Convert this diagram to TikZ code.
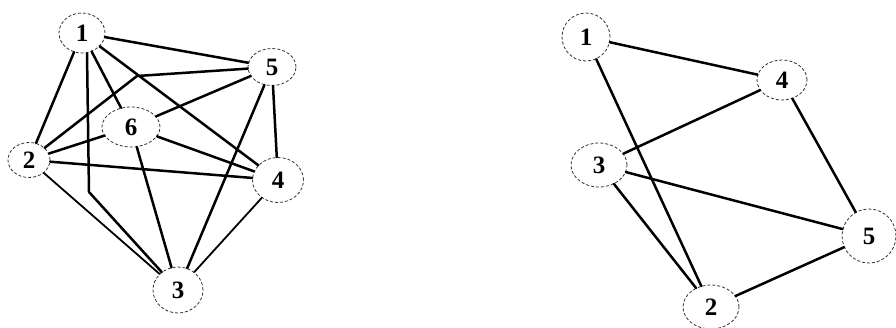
\documentclass[tikz,border=0pt]{standalone}
\usepackage{fontspec}
\setmainfont{Liberation Serif}
\usetikzlibrary{shapes.geometric}
\begin{document}
\begin{tikzpicture}[x=1pt,y=-1pt,
  vert/.style={ellipse,draw=black!80,line width=0.8pt,densely dashed,fill=white,
    inner sep=0pt,font=\fontsize{25}{25}\selectfont\bfseries},
  edge/.style={line width=2.5pt,line cap=round,line join=round},
  thinedge/.style={edge,line width=1.8pt}]
\useasboundingbox (0,0) rectangle (896,327);
\fill[white] (0,0) rectangle (896,327);

% left graph: vertices
\node[vert,minimum width=46pt,minimum height=40pt] (l1) at (82,33) {1};
\node[vert,minimum width=48pt,minimum height=37pt] (l5) at (272,67) {5};
\node[vert,minimum width=58pt,minimum height=40pt] (l6) at (131,127) {6};
\node[vert,minimum width=42pt,minimum height=35pt] (l2) at (29,160) {2};
\node[vert,minimum width=51pt,minimum height=45pt] (l4) at (278,180) {4};
\node[vert,minimum width=50pt,minimum height=46pt] (l3) at (178,290) {3};
\coordinate (b13) at (89,192);
\coordinate (b25) at (137,76);

% left graph: edges
\draw[edge] (l1) -- (l5);
\draw[edge] (l1) -- (l2);
\draw[edge] (l1) -- (l6);
\draw[edge] (l1) -- (l4);
\draw[edge] (l1.south) ++(5,0) -- (b13) -- (l3);
\draw[edge] (l2) -- (b25) -- (l5);
\draw[edge] (l2) -- (l6);
\draw[edge] (l2) -- (l4);
\draw[thinedge] (l2) -- (l3);
\draw[edge] (l6) -- (l5);
\draw[edge] (l6) -- (l4);
\draw[edge] (l6) -- (l3);
\draw[edge] (l5) -- (l4);
\draw[edge] (l5) -- (l3);
\draw[thinedge] (l4) -- (l3);

% right graph: vertices
\node[vert,minimum width=48pt,minimum height=48pt] (r1) at (586,37) {1};
\node[vert,minimum width=50pt,minimum height=40pt] (r4) at (782,80) {4};
\node[vert,minimum width=56pt,minimum height=44pt] (r3) at (599,165) {3};
\node[vert,minimum width=54pt,minimum height=54pt] (r5) at (869,236) {5};
\node[vert,minimum width=56pt,minimum height=44pt] (r2) at (711,307) {2};

% right graph: edges
\draw[edge] (r1) -- (r4);
\draw[edge] (r1) -- (r2);
\draw[edge] (r3) -- (r4);
\draw[edge] (r3) -- (r5);
\draw[edge] (r3) -- (r2);
\draw[edge] (r4) -- (r5);
\draw[edge] (r5) -- (r2);
\end{tikzpicture}
\end{document}
